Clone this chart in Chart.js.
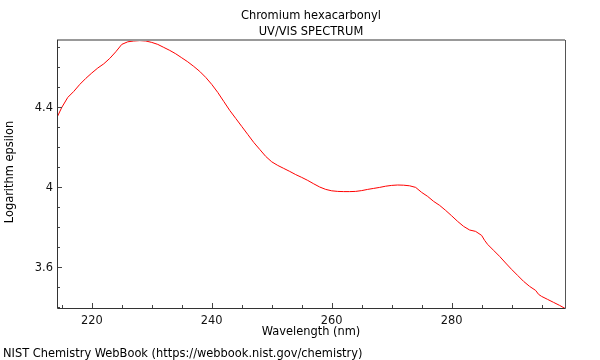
<!DOCTYPE html>
<html>
<head>
<meta charset="utf-8">
<script src="https://cdn.jsdelivr.net/npm/chart.js@4"></script>
<style>
  html, body { margin: 0; padding: 0; background: #fff; }
  #wrap { width: 600px; height: 360px; }
</style>
</head>
<body>
<div id="wrap"><canvas id="uvChart" width="600" height="360"></canvas></div>
<script>
// Spectrum (wavelength in nm, log epsilon)
const wavelengths = [
  214.2, 215, 216, 217, 218, 219, 220, 221, 222, 223, 224, 225, 226, 227, 228, 229, 230,
  231, 232, 233, 234, 235, 236, 237, 238, 239, 240, 241, 242, 243, 244, 245, 246, 247,
  248, 249, 250, 251, 252, 253, 254, 255, 256, 257, 258, 259, 260, 261, 262, 263, 264,
  265, 266, 267, 268, 269, 270, 271, 272, 273, 274, 275, 276, 277, 278, 279, 280, 281,
  282, 283, 284, 285, 285.5, 286, 287, 288, 289, 290, 291, 292, 293, 294, 294.5, 295,
  296, 297, 298, 298.9
];
const logEpsilon = [
  4.35, 4.40, 4.45, 4.48, 4.515, 4.545, 4.572, 4.597, 4.618, 4.645, 4.678, 4.715, 4.728,
  4.732, 4.734, 4.732, 4.725, 4.715, 4.70, 4.685, 4.668, 4.648, 4.628, 4.605, 4.58, 4.55,
  4.515, 4.475, 4.43, 4.385, 4.345, 4.305, 4.265, 4.225, 4.19, 4.155, 4.128, 4.11, 4.095,
  4.08, 4.064, 4.05, 4.035, 4.018, 4.002, 3.99, 3.983, 3.98, 3.979, 3.979, 3.98, 3.984,
  3.99, 3.995, 4.0, 4.006, 4.01, 4.012, 4.011, 4.008, 4.0, 3.975, 3.955, 3.93, 3.91,
  3.885, 3.858, 3.83, 3.805, 3.787, 3.78, 3.76, 3.735, 3.715, 3.685, 3.655, 3.622, 3.59,
  3.56, 3.53, 3.505, 3.485, 3.465, 3.455, 3.44, 3.425, 3.41, 3.395
];
const xTicks = [220, 240, 260, 280];
const yTicks = [3.6, 4, 4.4];

const FONT = '"DejaVu Sans Condensed", "DejaVu Sans", sans-serif';
const FONT_SIZE = 12.7;

// frame, inward ticks and all free text
const framePlugin = {
  id: 'frame',
  afterDraw(chart) {
    const { ctx, chartArea: a, scales: { x, y } } = chart;
    ctx.save();

    // minor + major ticks pointing inward
    ctx.strokeStyle = '#444';
    ctx.lineWidth = 1;
    ctx.beginPath();
    for (let v = 215; v <= 298; v += 5) {
      const px = Math.round(x.getPixelForValue(v)) + 0.5;
      const len = v % 20 === 0 ? 5 : 3;
      ctx.moveTo(px, a.bottom);
      ctx.lineTo(px, a.bottom - len);
    }
    for (let i = 34; i <= 47; i++) {
      const v = i / 10;
      const py = Math.round(y.getPixelForValue(v)) + 0.5;
      const major = [36, 40, 44].includes(i);
      ctx.moveTo(a.left, py);
      ctx.lineTo(a.left + (major ? 5 : 3), py);
    }
    ctx.stroke();

    // border
    ctx.strokeStyle = '#999';
    ctx.lineWidth = 2;
    ctx.beginPath();
    ctx.moveTo(a.left, a.top);
    ctx.lineTo(a.right, a.top);
    ctx.stroke();
    ctx.strokeStyle = '#555';
    ctx.lineWidth = 1;
    ctx.beginPath();
    ctx.moveTo(a.right + 0.5, a.top);
    ctx.lineTo(a.right + 0.5, a.bottom + 0.5);
    ctx.stroke();
    ctx.strokeStyle = '#333';
    ctx.beginPath();
    ctx.moveTo(a.left + 0.5, a.top);
    ctx.lineTo(a.left + 0.5, a.bottom + 0.5);
    ctx.lineTo(a.right + 0.5, a.bottom + 0.5);
    ctx.stroke();

    // text
    ctx.fillStyle = '#000';
    ctx.font = FONT_SIZE + 'px ' + FONT;
    ctx.textAlign = 'center';
    ctx.textBaseline = 'alphabetic';
    const cx = (a.left + a.right) / 2;
    ctx.fillText('Chromium hexacarbonyl', cx, 19);
    ctx.fillText('UV/VIS SPECTRUM', cx, 35);
    ctx.fillText('Wavelength (nm)', cx, 335);
    ctx.textAlign = 'left';
    ctx.fillText('NIST Chemistry WebBook (https://webbook.nist.gov/chemistry)', 3, 357);
    ctx.translate(13, (a.top + a.bottom) / 2 - 2);
    ctx.rotate(-Math.PI / 2);
    ctx.textAlign = 'center';
    ctx.fillText('Logarithm epsilon', 0, 0);
    ctx.restore();
  }
};

new Chart(document.getElementById('uvChart'), {
  type: 'scatter',
  data: {
    datasets: [{
      data: wavelengths.map((w, i) => ({ x: w, y: logEpsilon[i] })),
      showLine: true,
      borderColor: '#ff0000',
      borderWidth: 1,
      pointRadius: 0,
      tension: 0
    }]
  },
  options: {
    responsive: false,
    animation: false,
    layout: { padding: { top: 40, right: 35, left: 0, bottom: 0 } },
    plugins: { legend: { display: false }, tooltip: { enabled: false } },
    scales: {
      x: {
        type: 'linear',
        min: 214.2,
        max: 298.9,
        afterBuildTicks: s => { s.ticks = xTicks.map(v => ({ value: v })); },
        afterFit: s => { s.height = 52; },
        grid: { display: false, drawTicks: false },
        border: { display: false },
        ticks: { color: '#111', padding: 5, font: { family: FONT, size: FONT_SIZE } }
      },
      y: {
        min: 3.397,
        max: 4.737,
        afterBuildTicks: s => { s.ticks = yTicks.map(v => ({ value: v })); },
        afterFit: s => { s.width = 57; },
        grid: { display: false, drawTicks: false },
        border: { display: false },
        ticks: {
          color: '#111',
          padding: 4,
          font: { family: FONT, size: FONT_SIZE },
          callback: v => String(v)
        }
      }
    }
  },
  plugins: [framePlugin]
});
</script>
</body>
</html>
